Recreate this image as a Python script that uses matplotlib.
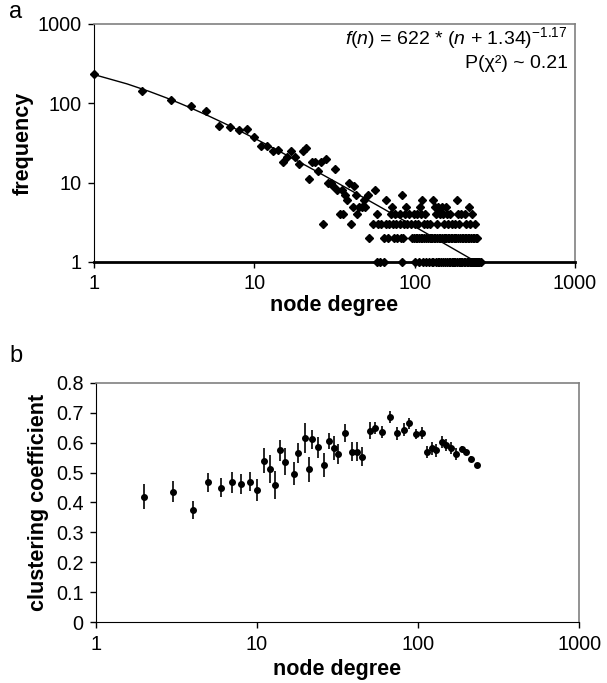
import matplotlib.pyplot as plt
import numpy as np

plt.rcParams['font.family'] = ['Liberation Sans', 'DejaVu Sans']
plt.rcParams['mathtext.fontset'] = 'custom'
plt.rcParams['mathtext.rm'] = 'Liberation Sans'
plt.rcParams['mathtext.it'] = 'Liberation Sans:italic'

# panel a: degree distribution (degree, frequency)
deg_low = [1, 2, 3, 4, 5, 6, 7, 8, 9, 10, 11, 12, 13, 14, 15, 16, 17, 18, 19, 20,
           21, 22, 23, 24, 25, 26, 27, 28, 29, 30, 31, 32, 33, 34, 35, 36, 37, 38,
           39, 40, 41, 42, 43, 44, 45]
freq_low = [234, 142, 110, 93, 80, 52, 50, 46, 47, 38, 29, 29, 25, 26, 18, 21, 25,
            21, 17, 25, 27, 11, 18, 18, 14, 18, 3, 20, 10, 10, 9, 15, 8, 4, 8, 4,
            7, 6, 10, 3, 5, 9, 7, 4, 5]
deg_f8 = [57]
deg_f7 = [51, 84]
deg_f6 = [48, 66, 112, 131, 185]
deg_f5 = [47, 49, 72, 88, 108, 134, 141, 149, 156, 218]
deg_f4 = [58, 71, 76, 81, 87, 92, 99, 103, 110, 116, 136, 144, 151, 159, 167,
          186, 196, 207, 229]
deg_f3 = [55, 59, 62, 66, 69, 73, 77, 81, 86, 90, 95, 100, 105, 114, 120, 125, 139,
          153, 162, 171, 180, 190, 209, 222, 238]
deg_f2 = [52, 64, 68, 74, 78, 82, 85, 96, 99, 102, 104, 107, 109, 111, 115, 118, 121,
          124, 127, 129, 132, 135, 138, 142, 145, 148, 152, 155, 158, 161, 164, 168,
          172, 175, 178, 182, 187, 192, 197, 201, 205, 210, 215, 220, 225, 231, 236,
          241, 246]
deg_f1 = [58, 61, 64, 84, 101, 106, 113, 117, 123, 128, 131, 137, 140, 143, 146, 150,
          154, 160, 163, 166, 170, 174, 177, 179, 183, 188, 191, 194, 199, 203, 206,
          211, 214, 217, 221, 224, 227, 230, 233, 235, 239, 242, 245, 248, 251, 254, 258]

fit_a, fit_b, fit_c = 622, 1.34, -1.17

# panel b: clustering coefficient
cc_deg = [2, 3, 4, 5, 6, 7, 8, 9, 10, 11, 12, 13, 14, 15, 17, 18, 20, 21, 22, 24, 26,
          28, 30, 32, 35, 39, 42, 45, 50, 54, 60, 67, 74, 82, 88, 97, 106, 113, 122,
          130, 140, 150, 161, 173, 188, 198, 212, 234]
cc_val = [0.420, 0.436, 0.375, 0.467, 0.450, 0.467, 0.462, 0.470, 0.442, 0.540,
          0.511, 0.458, 0.574, 0.536, 0.496, 0.566, 0.615, 0.511, 0.612, 0.585,
          0.524, 0.606, 0.582, 0.562, 0.632, 0.570, 0.570, 0.553, 0.640, 0.649,
          0.636, 0.685, 0.631, 0.644, 0.665, 0.628, 0.631, 0.570, 0.582, 0.574,
          0.602, 0.591, 0.582, 0.562, 0.578, 0.570, 0.545, 0.524]
cc_err = [0.043, 0.035, 0.030, 0.033, 0.033, 0.035, 0.034, 0.032, 0.038, 0.043,
          0.047, 0.048, 0.034, 0.045, 0.039, 0.034, 0.050, 0.042, 0.032, 0.035,
          0.040, 0.027, 0.041, 0.034, 0.030, 0.031, 0.031, 0.032, 0.028, 0.020,
          0.020, 0.020, 0.022, 0.021, 0.018, 0.017, 0.020, 0.020, 0.022, 0.022,
          0.020, 0.020, 0.020, 0.020, 0.010, 0.008, 0.010, 0.005]

fig = plt.figure(figsize=(6.07, 6.83), dpi=100)
ax1 = fig.add_axes([0.155, 0.6164, 0.792, 0.3485])
ax2 = fig.add_axes([0.158, 0.0893, 0.796, 0.35])

def style(ax, lpad):
    for s in ['top', 'right']:
        ax.spines[s].set_color('#808080')
        ax.spines[s].set_linewidth(1.2)
    ax.spines['left'].set_color('black')
    ax.spines['bottom'].set_color('black')
    ax.tick_params(direction='out', length=4, width=1, labelsize=14.3, pad=5)
    ax.tick_params(which='minor', length=0)
    ax.set_xscale('log')
    ax.set_xlim(1, 1000)
    ax.set_xticks([1, 10, 100, 1000])
    ax.set_xticklabels(['1', '10', '100', '1000'])
    ax.set_xlabel('node degree', fontsize=15.5, fontweight='bold', labelpad=lpad)

# panel a
tail_d = deg_f8 + deg_f7 + deg_f6 + deg_f5 + deg_f4 + deg_f3 + deg_f2 + deg_f1
tail_f = ([8] * len(deg_f8) + [7] * len(deg_f7) + [6] * len(deg_f6) + [5] * len(deg_f5)
          + [4] * len(deg_f4) + [3] * len(deg_f3) + [2] * len(deg_f2) + [1] * len(deg_f1))
ax1.plot(deg_low + tail_d, freq_low + tail_f, 'D', color='black', markersize=4,
         clip_on=False, zorder=3)
n = np.linspace(1, 242.6, 400)
ax1.plot(n, fit_a * (n + fit_b) ** fit_c, color='black', lw=1)
style(ax1, 1)
ax1.set_yscale('log')
ax1.set_ylim(1, 1000)
ax1.set_yticks([1, 10, 100, 1000])
ax1.set_yticklabels(['1', '10', '100', '1000'])
ax1.spines['bottom'].set_linewidth(2)
ax1.set_ylabel('frequency', fontsize=15.5, fontweight='bold', labelpad=3)
ax1.text(0.985, 0.995, r'$\mathit{f(n)}$ = 622 * ($\mathit{n}$ + 1.34)$^{-1.17}$',
         transform=ax1.transAxes, ha='right', va='top', fontsize=14)
ax1.text(0.985, 0.87, 'P(χ²) ~ 0.21', transform=ax1.transAxes, ha='right',
         va='top', fontsize=14)
fig.text(0.015, 0.974, 'a', fontsize=17)

# panel b
ax2.errorbar(cc_deg, cc_val, yerr=cc_err, fmt='o', color='black', markersize=4,
             elinewidth=1.2, capsize=0)
style(ax2, 4)
ax2.set_ylim(0, 0.8)
ax2.set_yticks(np.arange(0, 0.81, 0.1))
ax2.set_yticklabels(['0', '0.1', '0.2', '0.3', '0.4', '0.5', '0.6', '0.7', '0.8'])
ax2.set_ylabel('clustering coefficient', fontsize=15.5, fontweight='bold', labelpad=5)
fig.text(0.015, 0.47, 'b', fontsize=17)

fig.savefig('out.png', dpi=100)
